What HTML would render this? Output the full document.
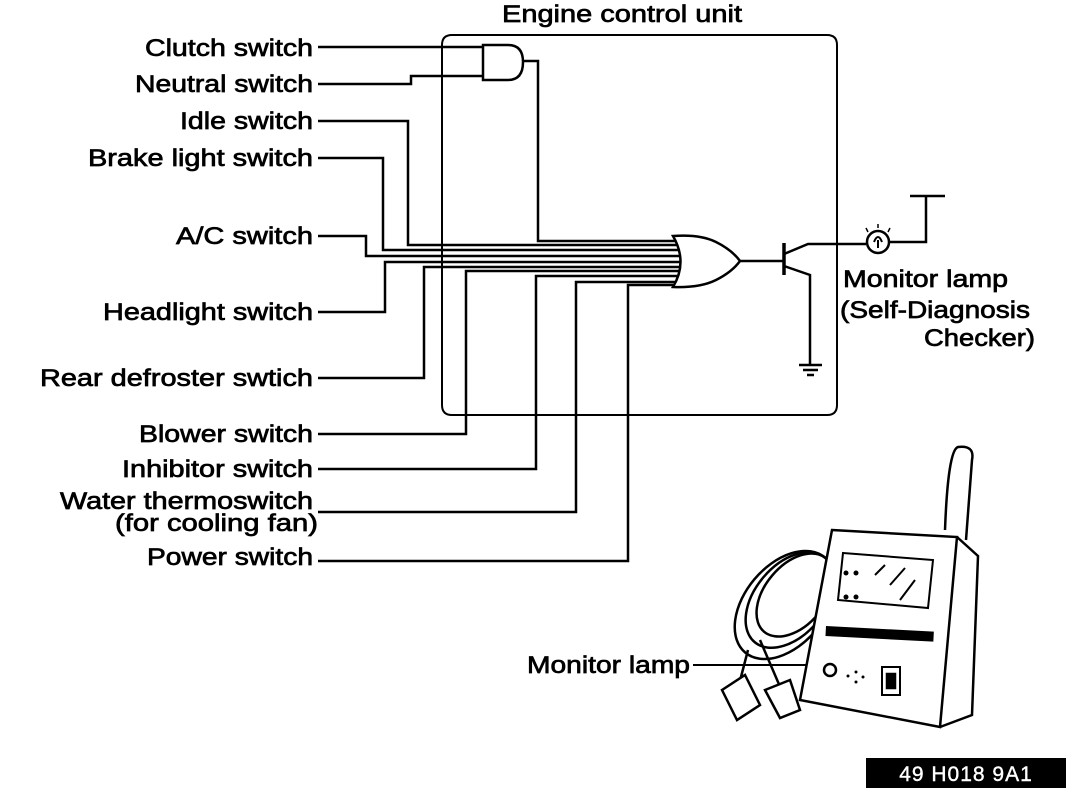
<!DOCTYPE html>
<html><head><style>
body{margin:0;background:#fff;}
svg text{font-family:"Liberation Sans",Arial,sans-serif;font-size:24px;fill:#000;stroke:#000;stroke-width:0.7;}
</style></head><body>
<svg width="1088" height="788" viewBox="0 0 1088 788" xmlns="http://www.w3.org/2000/svg">
<g fill="none" stroke="#000" stroke-width="2.5">
<path d="M452,35 H827 Q837,35 837,45 V405 Q837,415 827,415 H452 Q442,415 442,405 V45 Q442,35 452,35 Z" stroke-width="2"/>
<path d="M483,45 H508 Q523,45 523,62 Q523,80 508,80 H483 Z"/>
<path d="M318,47 H483"/>
<path d="M318,84 H411 V76 H483"/>
<path d="M523,61 H538 V241 H676"/>
<path d="M318,121 H408 V245 H678"/>
<path d="M318,158 H383 V250 H680"/>
<path d="M318,236 H366 V256 H681"/>
<path d="M318,312 H385 V262 H681"/>
<path d="M318,378 H424 V267 H680"/>
<path d="M318,434 H466 V271 H679"/>
<path d="M318,469 H536 V276 H678"/>
<path d="M318,512 H576 V282 H676"/>
<path d="M318,561 H628 V285 H673"/>
<path d="M673,236 Q700,234 716,242 Q732,250 740,261 Q732,272 716,280 Q700,288 673,287 Q688,262 673,236 Z" stroke-width="2.5"/>
<path d="M740,261 H783"/>
<path d="M784,243 V275" stroke-width="3.5"/>
<path d="M784,254 L808,244 H866"/>
<path d="M784,266 L810,275 V365"/>
<path d="M799,365 H822 M803,370 H818 M807,375 H814"/>
<circle cx="878" cy="242" r="11"/>
<path d="M874,242 Q878,232 882,242 M878,240 V248" stroke-width="2"/>
<path d="M866,228 L868,232 M878,224 V228 M890,228 L888,232" stroke-width="1.5"/>
<path d="M889,242 H926 V196 M910,196 H945"/>
<path d="M693,665 H826" stroke-width="2"/>
<g stroke-width="2.5">
<ellipse cx="790" cy="600" rx="55" ry="35" transform="rotate(-50 790 600)"/>
<ellipse cx="795" cy="595" rx="48" ry="30" transform="rotate(-50 795 595)"/>
<ellipse cx="785" cy="605" rx="62" ry="40" transform="rotate(-50 785 605)"/>
<path d="M748,650 L735,700 M760,640 L790,710"/>
<path d="M722,690 L745,675 L760,705 L737,720 Z" fill="#fff"/>
<path d="M765,690 L790,680 L800,710 L780,718 Z" fill="#fff"/>
<path d="M945,530 Q948,450 958,447 Q975,445 972,460 L966,540"/>
<path d="M957,537 L978,556 L972,715 L940,727" fill="#fff"/>
<path d="M832,530 L957,537 L940,727 L800,700 Z" fill="#fff"/>
<path d="M843,553 L933,560 L928,608 L838,600 Z" stroke-width="2"/>
<path d="M875,575 L885,565 M890,585 L905,568 M900,600 L915,580" stroke-width="2"/>
<circle cx="830" cy="670" r="6"/>
<rect x="882" y="667" width="18" height="28" stroke-width="2"/>
<rect x="887" y="674" width="8" height="14" fill="#000"/>
</g>
<g fill="#000" stroke="none">
<rect x="826" y="626" width="108" height="10" transform="rotate(3 826 626)"/>
<circle cx="846" cy="573" r="2.5"/><circle cx="846" cy="597" r="2.5"/><circle cx="856" cy="573" r="2.5"/><circle cx="856" cy="597" r="2.5"/>
<circle cx="848" cy="676" r="1.5"/><circle cx="856" cy="672" r="1.5"/><circle cx="856" cy="682" r="1.5"/><circle cx="863" cy="677" r="1.5"/>
</g>
</g>
<g lengthAdjust="spacingAndGlyphs">
<text x="502" y="22" textLength="240" lengthAdjust="spacingAndGlyphs">Engine control unit</text>
<text x="145" y="56" textLength="168" lengthAdjust="spacingAndGlyphs">Clutch switch</text>
<text x="135" y="92" textLength="178" lengthAdjust="spacingAndGlyphs">Neutral switch</text>
<text x="180" y="129" textLength="133" lengthAdjust="spacingAndGlyphs">Idle switch</text>
<text x="88" y="166" textLength="225" lengthAdjust="spacingAndGlyphs">Brake light switch</text>
<text x="176" y="244" textLength="137" lengthAdjust="spacingAndGlyphs">A/C switch</text>
<text x="103" y="320" textLength="210" lengthAdjust="spacingAndGlyphs">Headlight switch</text>
<text x="40" y="386" textLength="273" lengthAdjust="spacingAndGlyphs">Rear defroster swtich</text>
<text x="139" y="442" textLength="174" lengthAdjust="spacingAndGlyphs">Blower switch</text>
<text x="122" y="477" textLength="191" lengthAdjust="spacingAndGlyphs">Inhibitor switch</text>
<text x="60" y="509" textLength="253" lengthAdjust="spacingAndGlyphs">Water thermoswitch</text>
<text x="115" y="531" textLength="203" lengthAdjust="spacingAndGlyphs">(for cooling fan)</text>
<text x="147" y="565" textLength="166" lengthAdjust="spacingAndGlyphs">Power switch</text>
<text x="843" y="287" textLength="165" lengthAdjust="spacingAndGlyphs">Monitor lamp</text>
<text x="840" y="318" textLength="190" lengthAdjust="spacingAndGlyphs">(Self-Diagnosis</text>
<text x="924" y="346" textLength="111" lengthAdjust="spacingAndGlyphs">Checker)</text>
<text x="527" y="673" textLength="163" lengthAdjust="spacingAndGlyphs">Monitor lamp</text>
</g>
<rect x="866" y="758" width="200" height="30" fill="#000"/>
<text x="966" y="781" text-anchor="middle" style="fill:#fff;stroke:#fff;stroke-width:0.4;font-size:21px;letter-spacing:1px">49 H018 9A1</text>
</svg>
</body></html>
